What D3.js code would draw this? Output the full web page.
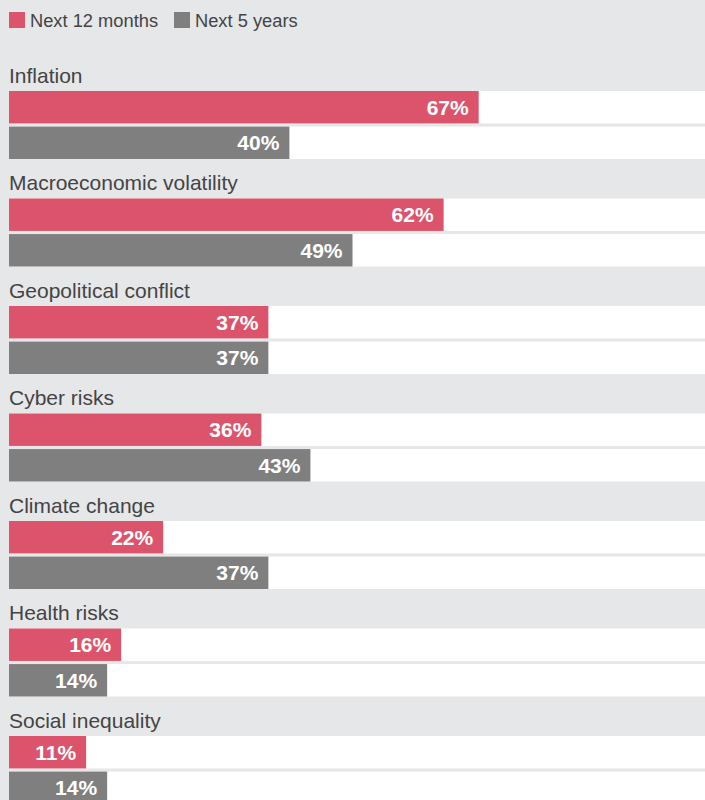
<!DOCTYPE html>
<html><head><meta charset="utf-8">
<script src="https://cdn.jsdelivr.net/npm/d3@7"></script>
<style>html,body{margin:0;padding:0;background:#e6e7e9;}svg{display:block;}</style>
</head><body>
<script>
const categories = ["Inflation","Macroeconomic volatility","Geopolitical conflict","Cyber risks","Climate change","Health risks","Social inequality"];
const next12Months = [67,62,37,36,22,16,11];
const next5Years = [40,49,37,43,37,14,14];
const seriesNames = ["Next 12 months","Next 5 years"];
const colors = ["#dc546b","#7f7f7f"];

const W = 705, H = 800;
const svg = d3.select("body").append("svg").attr("width",W).attr("height",H);
svg.append("rect").attr("width",W).attr("height",H).attr("fill","#e6e7e9");

const font = "'Liberation Sans', Arial, Helvetica, sans-serif";
const x = d3.scaleLinear().domain([0,100]).range([9,710]);
const yGroup = d3.scaleBand().domain(categories).range([60.5, 60.5 + 107.5*categories.length]).padding(0);
const yInner = d3.scaleBand().domain(seriesNames).range([30.5, 98.5]).paddingInner(6/68);

// Legend
const leg = svg.append("g");
const legX = [9,174];
seriesNames.forEach((s,i)=>{
  leg.append("rect").attr("x",legX[i]).attr("y",12).attr("width",16).attr("height",16).attr("fill",colors[i]);
  leg.append("text").attr("x",legX[i]+21).attr("y",27).attr("font-family",font).attr("font-size",18.3).attr("fill","#444").text(s);
});

const data = categories.map((c,i)=>({cat:c, vals:[next12Months[i], next5Years[i]]}));
const g = svg.selectAll("g.grp").data(data).join("g").attr("class","grp")
  .attr("transform",d=>`translate(0,${yGroup(d.cat)})`);

g.append("text").attr("x",9).attr("y",22).attr("font-family",font).attr("font-size",21).attr("fill","#444").text(d=>d.cat);

seriesNames.forEach((s,si)=>{
  g.append("rect").attr("x",x(0)).attr("y",yInner(s)).attr("width",W - x(0)).attr("height",yInner.bandwidth()).attr("fill","#fff");
  g.append("rect").attr("x",x(0)).attr("y",yInner(s)).attr("width",d=>x(d.vals[si])-x(0)).attr("height",yInner.bandwidth()).attr("fill",colors[si]);
  g.append("text").attr("x",d=>x(d.vals[si])-10).attr("y",yInner(s)+yInner.bandwidth()/2+7.5)
    .attr("text-anchor","end").attr("font-family",font).attr("font-weight","bold").attr("font-size",21).attr("fill","#fff")
    .text(d=>d.vals[si]+"%");
});
</script>
</body></html>
